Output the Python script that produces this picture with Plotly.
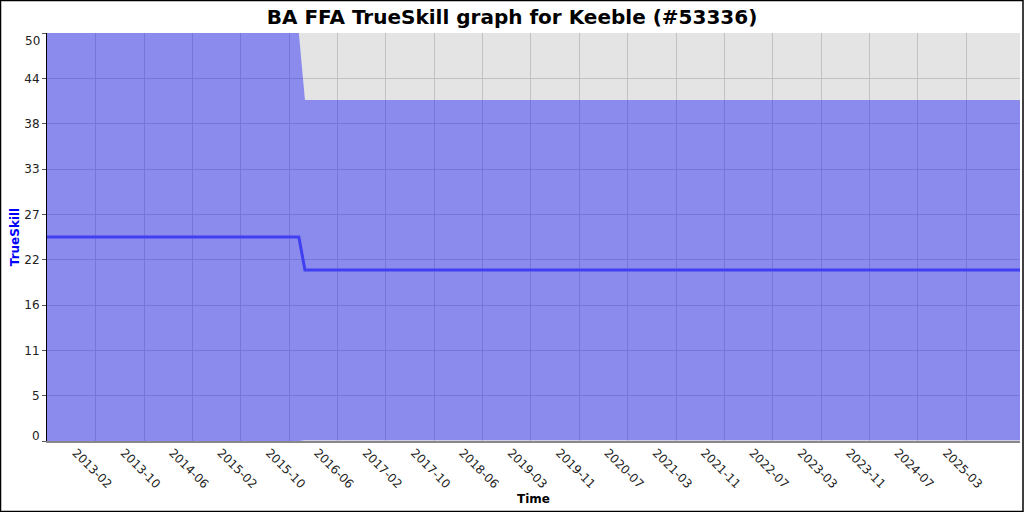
import plotly.graph_objects as go
import pandas as pd
import numpy as np

# Data
dates = ["2012-06-13", "2015-12-11", "2016-01-11", "2025-12-12"]
mu = [25.0, 25.0, 20.95, 20.95]
sigma = [8.333, 8.333, 6.95, 6.95]

tick_labels = ["2013-02", "2013-10", "2014-06", "2015-02", "2015-10", "2016-06",
               "2017-02", "2017-10", "2018-06", "2019-03", "2019-11", "2020-07",
               "2021-03", "2021-11", "2022-07", "2023-03", "2023-11", "2024-07",
               "2025-03"]
first_tick = "2013-02-15"
last_tick = "2025-03-14"

y_tick_labels = ["0", "5", "11", "16", "22", "27", "33", "38", "44", "50"]
y_max = 50

d = pd.to_datetime(dates)
upper = [m + 3 * s for m, s in zip(mu, sigma)]
lower = [m - 3 * s for m, s in zip(mu, sigma)]

t0 = pd.Timestamp(first_tick).value
t1 = pd.Timestamp(last_tick).value
tickvals = [pd.Timestamp(int(v)) for v in np.linspace(t0, t1, len(tick_labels))]
y_tickvals = list(np.linspace(0, y_max, len(y_tick_labels)))

# end labels are nudged inward (as in the reference), drawn as annotations
y_ticktext = [""] + y_tick_labels[1:-1] + [""]

fig = go.Figure()
fig.add_trace(go.Scatter(x=d, y=lower, mode="lines", line=dict(width=0),
                         hoverinfo="skip", showlegend=False))
fig.add_trace(go.Scatter(x=d, y=upper, mode="lines", line=dict(width=0),
                         fill="tonexty", fillcolor="rgba(0,0,255,0.39)",
                         hoverinfo="skip", showlegend=False))
fig.add_trace(go.Scatter(x=d, y=mu, mode="lines",
                         line=dict(color="#4040f2", width=3), showlegend=False))

L, R, T, B = 47, 4, 33, 71
W, H = 1024, 512
pw, ph = W - L - R, H - T - B

annotations = [
    dict(xref="paper", yref="y", x=0, y=y_tickvals[0], text=y_tick_labels[0],
         xanchor="right", yanchor="middle", xshift=-5, yshift=5, showarrow=False,
         font=dict(family="DejaVu Sans", size=12, color="#222")),
    dict(xref="paper", yref="y", x=0, y=y_tickvals[-1], text=y_tick_labels[-1],
         xanchor="right", yanchor="middle", xshift=-5, yshift=-8, showarrow=False,
         font=dict(family="DejaVu Sans", size=12, color="#222")),
]

fig.update_layout(
    width=W, height=H,
    margin=dict(l=L, r=R, t=T, b=B, pad=0, autoexpand=False),
    paper_bgcolor="white",
    plot_bgcolor="#e4e4e4",
    font=dict(family="DejaVu Sans", size=12, color="#222"),
    title=dict(text="<b>BA FFA TrueSkill graph for Keeble (#53336)</b>",
               x=0.5, xanchor="center", y=1 - 17 / H, yanchor="middle",
               font=dict(family="DejaVu Sans", size=20, color="black")),
    xaxis=dict(
        range=[d[0], d[-1]], tickvals=tickvals, ticktext=tick_labels,
        tickangle=45, showgrid=True, gridcolor="#c2c2c2", gridwidth=1,
        showline=True, linecolor="#888", linewidth=2,
        ticks="", ticklabelshift=-20, ticklabelstandoff=-2,
        tickfont=dict(family="DejaVu Sans", size=12, color="#222"),
        title=dict(text="<b>Time</b>", standoff=4,
                   font=dict(family="DejaVu Sans", size=12, color="black")),
        zeroline=False, automargin=False,
    ),
    yaxis=dict(
        range=[0, y_max], tickvals=y_tickvals, ticktext=y_ticktext,
        showgrid=True, gridcolor="#c2c2c2", gridwidth=1,
        showline=True, linecolor="black", linewidth=1,
        ticks="outside", ticklen=4, tickcolor="#555",
        tickfont=dict(family="DejaVu Sans", size=12, color="#222"),
        title=dict(text="<b>TrueSkill</b>", standoff=2,
                   font=dict(family="DejaVu Sans", size=12, color="blue")),
        zeroline=False, automargin=False,
    ),
    annotations=annotations,
    shapes=[dict(type="rect", xref="paper", yref="paper",
                 x0=(0.5 - L) / pw, x1=1 + (R - 1) / pw,
                 y0=-(B - 0.5) / ph, y1=1 + (T - 0.5) / ph,
                 line=dict(color="black", width=1.5), layer="above")],
)

fig.write_html("out.html", config={"displayModeBar": False},
               post_script="document.body.style.margin='0';document.body.style.overflow='hidden';")
